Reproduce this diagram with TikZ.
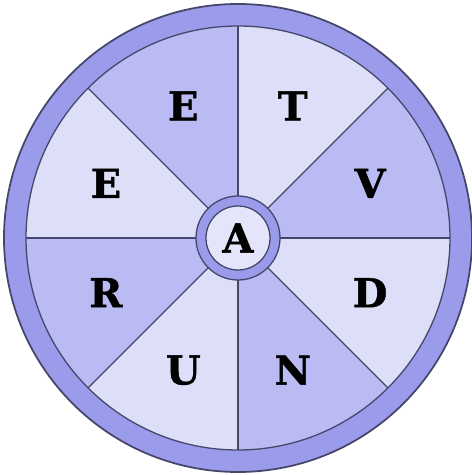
\documentclass[tikz,border=0pt]{standalone}
\usepackage{xcolor}
\usepackage{fontspec}
\setmainfont{DejaVu Serif}[BoldFeatures={FakeBold=1.2}]
\usepackage{tikz}
\definecolor{halkaMavi}{HTML}{9A9CEB}
\definecolor{koyuDilim}{HTML}{B9BBF2}
\definecolor{acikDilim}{HTML}{DDDEF8}
\definecolor{merkezDolgu}{HTML}{E4E5FA}
\definecolor{cizgiGri}{HTML}{45466A}

\begin{document}
\begin{tikzpicture}[x=0.03cm, y=0.03cm,
  every node/.style={font=\fontsize{34}{34}\selectfont\bfseries},
  cizgi/.style={draw=cizgiGri, line width=1.1pt}]
\useasboundingbox (-238,-237) rectangle (233,238);
\draw[cizgi, fill=halkaMavi, line width=1.5pt] (0,0) circle (234);
\foreach \a/\renk in {0/koyuDilim, 45/acikDilim, 90/koyuDilim, 135/acikDilim,
                      180/koyuDilim, 225/acikDilim, 270/koyuDilim, 315/acikDilim}
  \fill[\renk] (0,0) -- (\a:212) arc[start angle=\a, end angle=\a+45, radius=212] -- cycle;
\foreach \a in {0,45,...,315} \draw[cizgi] (0,0) -- (\a:212);
\draw[cizgi] (0,0) circle (212);
\draw[cizgi, fill=halkaMavi] (0,0) circle (42);
\draw[cizgi, fill=merkezDolgu] (0,0) circle (32);
\node (merkez) at (0,0) {A};
\foreach \a/\h [count=\i] in {67.5/T, 22.5/V, -22.5/D, -67.5/N, -112.5/U, -157.5/R, 157.5/E, 112.5/E}
  \node (harf\i) at (\a:143) {\h};
\end{tikzpicture}
\end{document}
